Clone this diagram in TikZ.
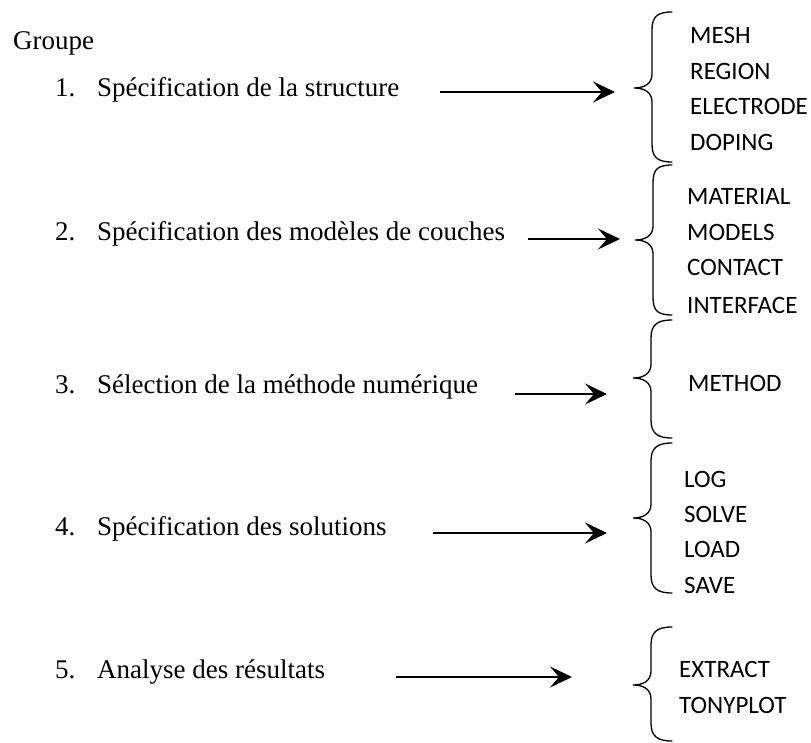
\documentclass[tikz,border=0pt]{standalone}
\usepackage{fontspec}
\setmainfont{Liberation Serif}
\newfontfamily\calfont{Carlito}
\usetikzlibrary{arrows.meta}
\newcommand\lbrce[4]{%
  \draw[bracestyle] (672,#1) .. controls (657,#1) and (#4+18,{#1+5}) .. (#4+18,{#1+18})
    -- (#4+18,{#2-14}) .. controls (#4+18,{#2-4}) and (#4+10,#2) .. (#4,#2)
    .. controls (#4+10,#2) and (#4+18,{#2+4}) .. (#4+18,{#2+14})
    -- (#4+18,{#3-18}) .. controls (#4+18,{#3-5}) and (657,#3) .. (672,#3);}
\tikzset{
  lefttext/.style={anchor=base west, inner sep=0pt, font=\fontsize{27}{30}\selectfont},
  righttext/.style={anchor=base west, inner sep=0pt, font=\calfont\fontsize{25}{28}\selectfont},
  bigarrow/.style={line width=2.4pt, -{Stealth[length=22pt,width=21pt,inset=9pt]}},
  bracestyle/.style={line width=1.3pt, line cap=round}
}
\newcommand\num[1]{\makebox[42pt][l]{#1}}
\begin{document}
\begin{tikzpicture}[x=1pt,y=-1pt]
\useasboundingbox (0,0) rectangle (811,743);
% left column
\node[lefttext] (g) at (13,50) {Groupe};
\node[lefttext] (t1) at (55,97) {\num{1.}Spécification de la structure};
\node[lefttext] (t2) at (55,241) {\num{2.}Spécification des modèles de couches};
\node[lefttext] (t3) at (55,393) {\num{3.}Sélection de la méthode numérique};
\node[lefttext] (t4) at (55,535) {\num{4.}Spécification des solutions};
\node[lefttext] (t5) at (55,678) {\num{5.}Analyse des résultats};
% arrows
\coordinate (a1s) at (440,92);  \coordinate (a1e) at (615,92);
\coordinate (a2s) at (528,239); \coordinate (a2e) at (620,239);
\coordinate (a3s) at (515,394); \coordinate (a3e) at (607,394);
\coordinate (a4s) at (433,533); \coordinate (a4e) at (607,533);
\coordinate (a5s) at (396,677); \coordinate (a5e) at (572,677);
\draw[bigarrow] (a1s) -- (a1e);
\draw[bigarrow] (a2s) -- (a2e);
\draw[bigarrow] (a3s) -- (a3e);
\draw[bigarrow] (a4s) -- (a4e);
\draw[bigarrow] (a5s) -- (a5e);
% braces
\lbrce{12}{88}{162}{634}
\lbrce{165}{240}{315}{635}
\lbrce{320}{378}{438}{633}
\lbrce{443}{518}{593}{633}
\lbrce{627}{685}{741}{633}
% right column
\node[righttext] (m1) at (690,44) {MESH};
\node[righttext] (m2) at (690,80) {REGION};
\node[righttext] (m3) at (690,115) {ELECTRODE};
\node[righttext] (m4) at (690,151) {DOPING};
\node[righttext] (n1) at (687,205) {MATERIAL};
\node[righttext] (n2) at (687,241) {MODELS};
\node[righttext] (n3) at (687,276) {CONTACT};
\node[righttext] (n4) at (687,313) {INTERFACE};
\node[righttext] (o1) at (688,391) {METHOD};
\node[righttext] (p1) at (684,487) {LOG};
\node[righttext] (p2) at (684,522) {SOLVE};
\node[righttext] (p3) at (684,557) {LOAD};
\node[righttext] (p4) at (684,593) {SAVE};
\node[righttext] (q1) at (679,677) {EXTRACT};
\node[righttext] (q2) at (679,713) {TONYPLOT};
\end{tikzpicture}
\end{document}
